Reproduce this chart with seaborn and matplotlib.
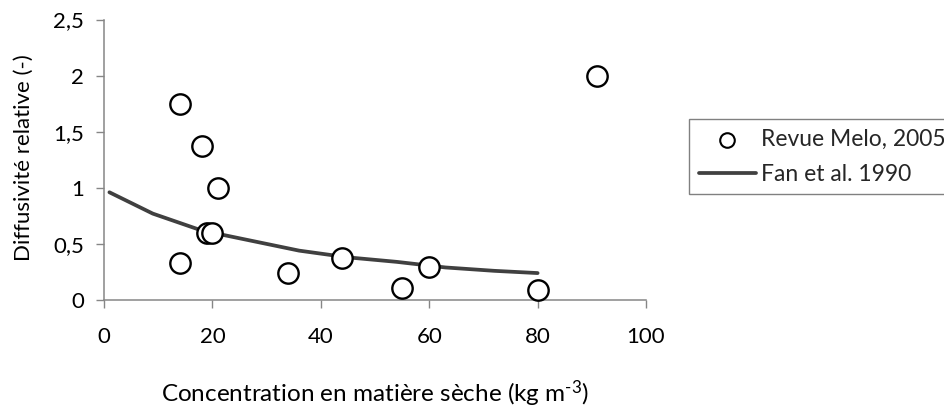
import matplotlib
matplotlib.use("Agg")
import matplotlib.pyplot as plt
import seaborn as sns
import pandas as pd

# Data
melo_x = [14, 18, 21, 19, 20, 14, 34, 44, 55, 60, 80, 91]
melo_y = [1.75, 1.37, 1.0, 0.6, 0.6, 0.33, 0.24, 0.37, 0.11, 0.29, 0.09, 2.0]
fan_x = [1, 9, 18, 27, 36, 45, 54, 63, 72, 80]
fan_y = [0.96, 0.77, 0.62, 0.53, 0.44, 0.38, 0.34, 0.29, 0.26, 0.24]
x_ticks = [0, 20, 40, 60, 80, 100]
y_ticks = [0, 0.5, 1.0, 1.5, 2.0, 2.5]
y_tick_labels = ["0", "0,5", "1", "1,5", "2", "2,5"]
melo_label = "Revue Melo, 2005"
fan_label = "Fan et al. 1990"

sns.set_style("white")
plt.rcParams["font.family"] = ["Lato", "DejaVu Sans"]
plt.rcParams["mathtext.fontset"] = "custom"
plt.rcParams["mathtext.rm"] = "Lato"
plt.rcParams["mathtext.it"] = "Lato"
plt.rcParams["mathtext.bf"] = "Lato"

W, H = 944, 409
fig = plt.figure(figsize=(W / 100, H / 100), dpi=100)
ax = fig.add_axes([104 / W, 1 - 300 / H, 542 / W, 280.5 / H])

melo = pd.DataFrame({"x": melo_x, "y": melo_y})
fan = pd.DataFrame({"x": fan_x, "y": fan_y})

sns.lineplot(data=fan, x="x", y="y", ax=ax, color="#404040", linewidth=2.7,
             estimator=None, sort=False, label=fan_label, zorder=2)
sns.scatterplot(data=melo, x="x", y="y", ax=ax, s=215, marker="o",
                facecolor="white", edgecolor="black", linewidth=1.7,
                label=melo_label, zorder=3, clip_on=False)

if ax.get_legend() is not None:
    ax.get_legend().remove()

ax.set_xlim(0, 100)
ax.set_ylim(0, 2.5)
ax.set_xticks(x_ticks)
ax.set_xticklabels([str(v) for v in x_ticks])
ax.set_yticks(y_ticks)
ax.set_yticklabels(y_tick_labels)
ax.set_xlabel("")
ax.set_ylabel("")

for side in ["top", "right"]:
    ax.spines[side].set_visible(False)
for side in ["left", "bottom"]:
    ax.spines[side].set_color("#868686")
    ax.spines[side].set_linewidth(1.1)

ax.tick_params(axis="both", which="major", direction="out", length=5.5,
               width=1.0, color="#868686", labelsize=16, labelcolor="black",
               bottom=True, left=True)
ax.tick_params(axis="y", pad=9)
ax.tick_params(axis="x", pad=14)

fig.text(24 / W, 1 - 158 / H, "Diffusivité relative (-)", rotation=90,
         ha="center", va="center", fontsize=16, color="black")
fig.text(375 / W, 1 - 402 / H, r"Concentration en matière sèche (kg m$^{\text{-3}}$)",
         ha="center", va="baseline", fontsize=17.5, color="black")

handles, labels = ax.get_legend_handles_labels()
hmap = dict(zip(labels, handles))
leg = fig.legend([hmap[melo_label], hmap[fan_label]], [melo_label, fan_label],
                 loc="upper left", bbox_to_anchor=(689 / W, 1 - 119 / H),
                 frameon=True, fancybox=False, edgecolor="#808080",
                 framealpha=1, fontsize=16.5, handlelength=2.5,
                 handletextpad=0.22, borderpad=0.42, labelspacing=0.62,
                 borderaxespad=0)
leg.get_frame().set_linewidth(1.0)
leg.legend_handles[0].set_sizes([110])
leg.legend_handles[0].set_linewidths([1.5])

fig.savefig("out.png", dpi=100)
